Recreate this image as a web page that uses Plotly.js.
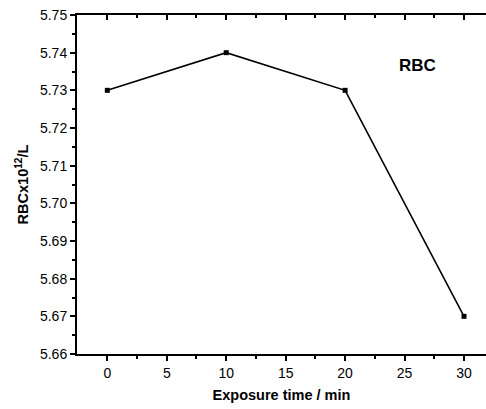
<!DOCTYPE html>
<html><head><meta charset="utf-8">
<script src="https://cdn.plot.ly/plotly-3.0.1.min.js"></script>
<style>html,body{margin:0;padding:0;background:#fff;}#c{width:486px;height:409px;}</style>
</head><body><div id="c"></div>
<script>
var times = [0, 10, 20, 30];
var rbc = [5.73, 5.74, 5.73, 5.67];
var xTicks = [0, 5, 10, 15, 20, 25, 30];
var xMinor = [2.5, 7.5, 12.5, 17.5, 22.5, 27.5];
var yTicks = [5.66, 5.67, 5.68, 5.69, 5.70, 5.71, 5.72, 5.73, 5.74, 5.75];
var yMinor = [5.665, 5.675, 5.685, 5.695, 5.705, 5.715, 5.725, 5.735, 5.745];
var yTickText = yTicks.map(function(v){return v.toFixed(2);});
var fam = 'Liberation Sans, Arial, sans-serif';
var tickFont = {family: fam, size: 14, color: '#000'};
var titleFont = {family: fam, size: 14.5, color: '#000'};
var XR = [-2.55, 31.85];
var data = [{
  x: times, y: rbc, type: 'scatter', mode: 'lines+markers',
  line: {color: '#000', width: 1.6},
  marker: {symbol: 'square', size: 5, color: '#000'},
  showlegend: false, cliponaxis: false
}, {
  x: times, y: rbc, xaxis: 'x2', yaxis: 'y', type: 'scatter', mode: 'none',
  showlegend: false, hoverinfo: 'skip'
}];
var frame = {color: '#000', width: 2};
var layout = {
  width: 486, height: 409,
  margin: {l: 77, r: 0, t: 15, b: 55, pad: 0},
  paper_bgcolor: '#fff', plot_bgcolor: '#fff',
  font: tickFont,
  xaxis: {
    range: XR, tickvals: xTicks, ticktext: xTicks.map(String),
    showgrid: false, zeroline: false, showline: true, linecolor: '#000', linewidth: 2,
    ticks: 'outside', ticklen: 5, tickwidth: 2, tickcolor: '#000',
    minor: {tickvals: xMinor, ticks: 'outside', ticklen: 3, tickwidth: 2, tickcolor: '#000', showgrid: false},
    tickfont: tickFont,
    title: {text: '<b>Exposure time / min</b>', font: titleFont, standoff: 10}
  },
  xaxis2: {
    overlaying: 'x', side: 'top', anchor: 'y', range: XR, tickvals: xTicks,
    showticklabels: false, showgrid: false, zeroline: false, showline: true, linecolor: '#000', linewidth: 2,
    ticks: 'inside', ticklen: 5, tickwidth: 2, tickcolor: '#000',
    minor: {tickvals: xMinor, ticks: 'inside', ticklen: 3, tickwidth: 2, tickcolor: '#000', showgrid: false}
  },
  yaxis: {
    range: [5.66, 5.75], tickvals: yTicks, ticktext: yTickText,
    showgrid: false, zeroline: false, showline: true, linecolor: '#000', linewidth: 2,
    ticks: 'outside', ticklen: 5, tickwidth: 2, tickcolor: '#000',
    minor: {tickvals: yMinor, ticks: 'outside', ticklen: 3, tickwidth: 2, tickcolor: '#000', showgrid: false},
    tickfont: tickFont,
    title: {text: '<b>RBCx10<sup>12</sup>/L</b>', font: titleFont, standoff: 8}
  },
  annotations: [{
    x: 26.1, y: 5.7365, xref: 'x', yref: 'y', text: '<b>RBC</b>', showarrow: false,
    font: {family: fam, size: 17, color: '#000'}
  }]
};
Plotly.newPlot('c', data, layout, {staticPlot: true, displayModeBar: false});
</script></body></html>
